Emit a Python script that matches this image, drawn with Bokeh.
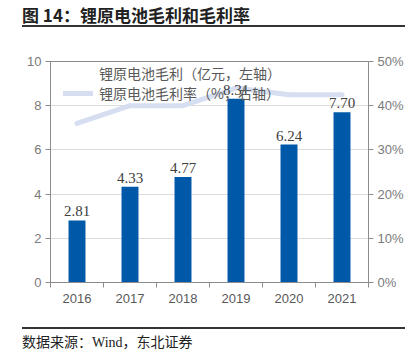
from bokeh.plotting import figure
from bokeh.models import (Range1d, LinearAxis, FixedTicker, ColumnDataSource, LabelSet,
                          Legend, LegendItem, Div, PrintfTickFormatter)
from bokeh.core.properties import value
from bokeh.layouts import column
from bokeh.embed import file_html
from bokeh.resources import INLINE

# ---- data ----
years = ["2016", "2017", "2018", "2019", "2020", "2021"]
profit = [2.81, 4.33, 4.77, 8.31, 6.24, 7.70]          # 亿元, left axis
margin_pct = [36.0, 40.0, 40.0, 44.0, 42.5, 42.5]      # %, right axis
left_ticks = [0, 2, 4, 6, 8, 10]
right_ticks = [0, 10, 20, 30, 40, 50]

title_text = "图 14：锂原电池毛利和毛利率"
source_text = "数据来源：Wind，东北证券"
bar_name = "锂原电池毛利（亿元，左轴）"
line_name = "锂原电池毛利率（%，右轴）"

BAR_COLOR = "#0058a8"
LINE_COLOR = "#d6def1"
AXIS_COLOR = "#8c8c8c"

xs = [i + 0.5 for i in range(len(years))]
src = ColumnDataSource(dict(x=xs, profit=profit, margin=margin_pct,
                            label=[f"{v:.2f}" for v in profit]))

p = figure(width=418, height=300, output_backend="svg", toolbar_location=None,
           x_range=Range1d(0, len(years)), y_range=Range1d(left_ticks[0], left_ticks[-1]),
           min_border_left=50, min_border_right=50, min_border_top=34, min_border_bottom=45,
           background_fill_color="white", border_fill_color="white")
p.extra_y_ranges = {"pct": Range1d(right_ticks[0], right_ticks[-1])}
p.outline_line_color = AXIS_COLOR
p.outline_line_width = 1

# bars
p.vbar(x="x", top="profit", width=0.32, source=src, fill_color=BAR_COLOR, line_color=None)
# line
r_line = p.line(x="x", y="margin", source=src, y_range_name="pct",
                line_color=LINE_COLOR, line_width=5, line_join="round", line_cap="round")

# data labels
labels = LabelSet(x="x", y="profit", text="label", source=src, text_align="center",
                  text_baseline="bottom", y_offset=4,
                  text_font=value("Liberation Serif"), text_font_size="15px",
                  text_color="#404040")
p.add_layout(labels)

# legend (bar swatch via a thick empty line)
r_leg_bar = p.line(x=[], y=[], line_color=BAR_COLOR, line_width=7, line_cap="butt")
legend = Legend(items=[LegendItem(label=bar_name, renderers=[r_leg_bar]),
                       LegendItem(label=line_name, renderers=[r_line])],
                location=(13, 179), margin=0, padding=0, spacing=0,
                glyph_width=30, glyph_height=20, label_height=20, label_standoff=6,
                label_text_font="Noto Sans CJK SC", label_text_font_size="14px",
                label_text_color="#595959",
                background_fill_alpha=0, border_line_color=None)
p.add_layout(legend)

# x axis
xa = p.xaxis[0]
xa.ticker = FixedTicker(ticks=xs, minor_ticks=list(range(len(years) + 1)))
xa.major_label_overrides = {x: y for x, y in zip(xs, years)}
xa.major_tick_out = 0
xa.major_tick_in = 0
xa.major_tick_line_color = None
xa.minor_tick_out = 5
xa.minor_tick_in = 0
xa.minor_tick_line_color = AXIS_COLOR
xa.axis_line_color = AXIS_COLOR
xa.major_label_standoff = 6
xa.major_label_text_font = "Liberation Sans"
xa.major_label_text_font_size = "13px"
xa.major_label_text_color = "#595959"

# left axis
ya = p.yaxis[0]
ya.ticker = FixedTicker(ticks=left_ticks)
ya.axis_line_color = AXIS_COLOR
ya.major_tick_line_color = AXIS_COLOR
ya.major_tick_out = 5
ya.major_tick_in = 0
ya.minor_tick_line_color = None
ya.major_label_standoff = 4
ya.major_label_text_font = "Liberation Sans"
ya.major_label_text_font_size = "13px"
ya.major_label_text_color = "#7a7a7a"

# right axis
ra = LinearAxis(y_range_name="pct", ticker=FixedTicker(ticks=right_ticks),
                formatter=PrintfTickFormatter(format="%d%%"))
ra.axis_line_color = AXIS_COLOR
ra.major_tick_line_color = AXIS_COLOR
ra.major_tick_out = 5
ra.major_tick_in = 0
ra.minor_tick_line_color = None
ra.major_label_standoff = 4
ra.major_label_text_font = "Liberation Sans"
ra.major_label_text_font_size = "13px"
ra.major_label_text_color = "#7a7a7a"
p.add_layout(ra, "right")

p.xgrid.grid_line_color = None
p.ygrid.ticker = FixedTicker(ticks=left_ticks)
p.ygrid.grid_line_color = "#dcdcdc"

title_div = Div(
    text=(f'<div style="padding-top:6px;margin-left:22px;width:383px;">'
          f'<div style="font-family:\'Noto Sans CJK SC\',sans-serif;font-weight:bold;'
          f'font-size:17px;line-height:17px;color:#222;white-space:nowrap;">{title_text}</div>'
          f'<div style="margin-top:2px;height:2px;background:#333;"></div></div>'),
    width=418, height=27, margin=0)
foot_div = Div(
    text=(f'<div style="margin-left:22px;width:383px;">'
          f'<div style="height:2px;background:#333;"></div>'
          f'<div style="margin-top:7px;font-family:\'Liberation Serif\',\'Noto Sans CJK SC\',serif;'
          f'font-size:14px;line-height:14px;color:#222;white-space:nowrap;">{source_text}</div></div>'),
    width=418, height=28, margin=0)

layout = column(title_div, p, foot_div, spacing=0, margin=0)

open("out.html", "w").write(file_html(layout, INLINE))
